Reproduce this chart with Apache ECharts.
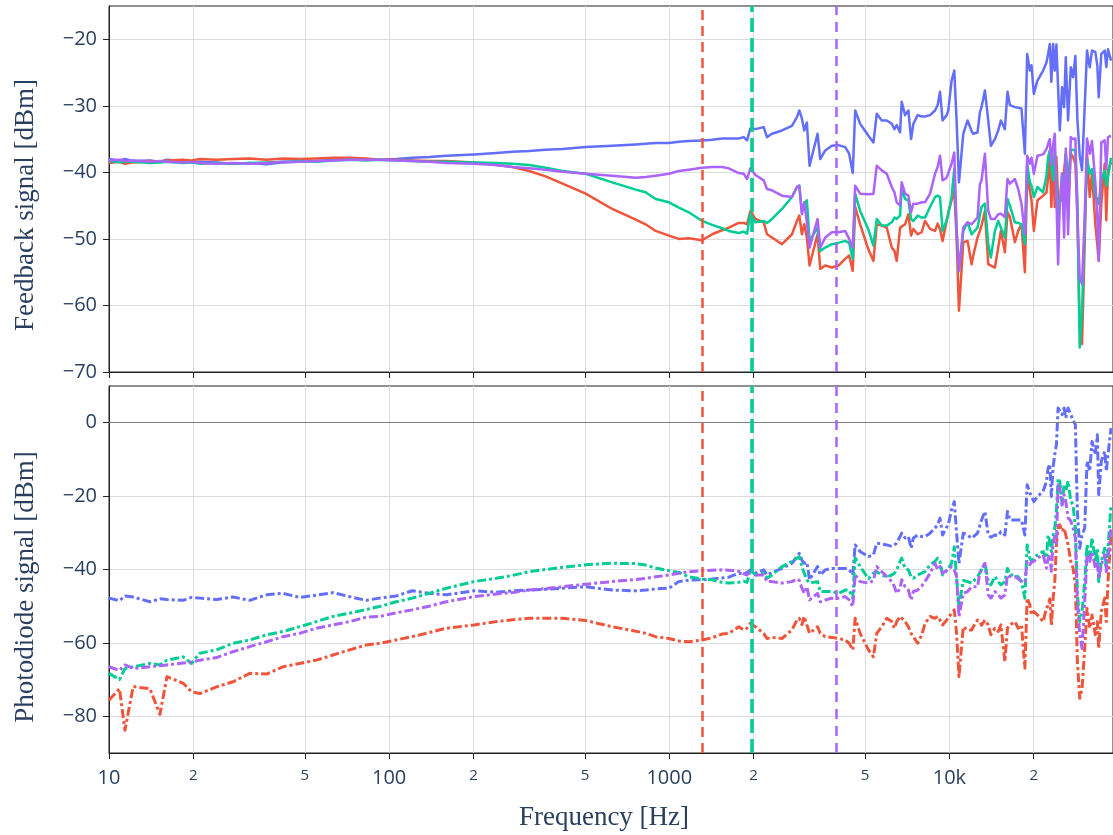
<!DOCTYPE html>
<html>
<head>
<meta charset="utf-8">
<script src="https://cdn.jsdelivr.net/npm/echarts@6/dist/echarts.min.js"></script>
<style>
  html, body { margin: 0; padding: 0; background: #ffffff; }
  #chart { width: 1113px; height: 835px; }
</style>
</head>
<body>
<div id="chart"></div>
<script>
// Frequency points [Hz] shared by every trace
const freq = [
  10, 10.9, 11.4, 12.2, 14.0, 15.2, 16.1, 18.4, 19.7, 21.1, 24.2, 27.7, 31.8, 36.5, 41.8, 47.9, 55.0, 63.0, 72.2, 82.8,
  92.4, 106, 121, 139, 160, 201, 241, 276, 316, 362, 416, 503, 626, 759, 823, 894, 997, 1082, 1174, 1310, 1422, 1543, 1631, 1770, 1844, 1895, 1948, 2030,
  2173, 2233, 2326, 2526, 2741, 2856, 2912, 2975, 3033, 3099, 3168, 3383, 3459, 3604, 3805, 4019, 4246, 4387, 4519, 4609, 4801, 5140, 5356,
  5504, 5735, 5975, 6226, 6365, 6484, 6668, 6756, 6947, 7138, 7298, 7437, 7703, 7962, 8185, 8529, 8886, 9078, 9258, 9454, 9777, 9910, 10181, 10409, 10608, 10818, 11208, 11610, 12004, 12165, 12601, 12848, 13022, 13390,
  13760, 14064, 14535, 14938, 15270, 15776, 16120, 16443, 17131, 17601, 18083, 18594, 18948, 19372, 19634, 20017, 20620, 21606, 22207, 22511, 22824, 23121, 23449, 23775, 24096, 24434, 24776, 25248, 25670, 26028, 26524, 27117, 27634, 28161, 28632, 29186, 29749, 30413, 30993, 31687, 32291, 33180, 33744, 34118, 34856, 35842, 36318, 36827, 37750
];

// Feedback signal [dBm]
const fbBlue = [
  -38.0, -38.2, -38.0, -38.3, -38.2, -38.4, -38.1, -38.3, -38.5, -38.4, -38.5, -38.7, -38.6, -38.8, -38.5, -38.4, -38.3, -38.1, -38.0, -38.1,
  -38.1, -38.0, -37.8, -37.7, -37.5, -37.3, -37.1, -36.9, -36.8, -36.6, -36.5, -36.2, -36.0, -35.8, -35.7, -35.6, -35.6, -35.4, -35.3, -35.2, -35.1, -34.9, -34.9, -34.9, -34.7, -35.2, -33.4, -33.5,
  -33.2, -34.7, -34.2, -33.7, -33.0, -31.7, -30.7, -31.9, -33.7, -32.5, -39.0, -34.2, -38.0, -36.7, -36.0, -35.9, -36.2, -37.2, -40.1, -30.7, -32.7, -34.5, -35.5,
  -31.2, -32.2, -32.2, -32.7, -33.5, -32.9, -34.0, -29.4, -31.4, -30.7, -35.0, -32.7, -31.4, -31.6, -31.6, -31.4, -30.7, -29.9, -27.9, -32.2, -31.4, -30.7, -26.2, -24.7, -32.2, -41.5, -34.2, -32.2, -33.8, -34.2, -34.0, -31.0, -30.2, -27.7,
  -32.2, -36.0, -35.0, -33.7, -32.2, -33.5, -27.9, -29.9, -30.2, -30.3, -30.4, -37.2, -22.2, -24.7, -23.9, -28.2, -26.2, -24.7, -23.5, -22.2, -20.7, -26.4, -20.7, -24.7, -20.8, -21.0, -33.7, -27.2, -30.2, -22.7, -32.2, -24.2, -25.7, -22.5, -32.0, -37.5, -39.7, -30.0, -21.7, -24.2, -21.7, -21.9, -24.0, -28.7, -22.2, -21.7, -24.2, -21.5, -23.2
];
const fbRed = [
  -38.6, -38.4, -38.7, -38.5, -38.3, -38.4, -38.2, -38.1, -38.2, -38.0, -38.1, -38.0, -37.9, -38.1, -37.9, -38.0, -37.9, -37.8, -37.8, -37.9,
  -38.1, -38.1, -38.2, -38.3, -38.3, -38.5, -38.9, -39.2, -39.8, -40.6, -41.7, -43.2, -45.5, -47.1, -47.8, -48.8, -49.5, -50.0, -49.9, -50.2, -49.3, -48.7, -48.3, -47.6, -47.6, -47.8, -45.8, -47.0,
  -47.5, -49.3, -49.8, -50.8, -49.3, -47.3, -46.5, -49.3, -47.8, -49.8, -54.0, -49.3, -54.5, -54.0, -54.3, -54.0, -53.0, -52.5, -54.8, -45.2, -47.8, -51.6, -53.3,
  -47.8, -48.0, -48.3, -51.3, -51.8, -53.3, -48.3, -48.0, -47.8, -46.3, -49.5, -48.5, -49.3, -49.0, -47.3, -48.5, -48.8, -47.7, -48.5, -50.3, -47.3, -46.0, -44.2, -42.7, -49.8, -60.8, -50.5, -50.3, -53.8, -52.5, -49.8, -48.8, -48.0, -45.8,
  -53.8, -54.0, -54.3, -51.3, -48.8, -52.0, -46.0, -46.7, -50.5, -48.8, -47.8, -55.0, -40.7, -42.7, -44.2, -48.8, -44.2, -43.5, -43.0, -40.7, -37.7, -45.2, -38.2, -45.2, -37.7, -44.0, -44.2, -44.2, -39.7, -37.2, -45.7, -37.2, -37.7, -38.7, -46.5, -63.5, -65.8, -50.5, -37.2, -43.7, -40.0, -47.8, -51.0, -53.3, -44.7, -38.7, -47.2, -39.7, -38.5
];
const fbGreen = [
  -38.3, -38.5, -38.4, -38.4, -38.6, -38.5, -38.4, -38.6, -38.5, -38.7, -38.6, -38.7, -38.6, -38.5, -38.4, -38.3, -38.4, -38.2, -38.1, -38.2,
  -38.1, -38.2, -38.3, -38.4, -38.4, -38.5, -38.6, -38.7, -38.9, -39.3, -39.8, -40.2, -41.5, -42.6, -43.0, -44.0, -44.5, -45.3, -46.0, -47.3, -47.9, -48.4, -48.8, -49.1, -48.9, -49.2, -46.2, -47.5,
  -47.3, -47.6, -47.0, -45.5, -43.7, -42.2, -42.0, -46.0, -44.7, -44.2, -50.3, -48.3, -51.8, -51.3, -50.8, -50.6, -50.3, -50.6, -53.0, -43.2, -45.8, -48.6, -51.0,
  -47.0, -48.0, -48.0, -47.5, -46.8, -47.0, -46.5, -42.5, -44.0, -44.2, -47.0, -47.3, -46.5, -46.8, -46.8, -45.2, -43.7, -43.5, -43.7, -48.8, -47.2, -46.3, -43.7, -39.5, -48.8, -54.8, -48.8, -47.5, -49.3, -49.0, -48.3, -46.5, -45.2, -44.7,
  -50.8, -52.8, -48.8, -47.3, -48.3, -49.8, -44.0, -45.0, -47.5, -47.6, -47.8, -50.8, -38.7, -41.5, -42.0, -43.7, -42.2, -43.0, -40.5, -37.7, -36.7, -39.2, -41.2, -36.7, -36.6, -46.3, -44.7, -40.2, -45.2, -37.2, -41.2, -36.7, -36.6, -36.7, -44.0, -66.3, -61.0, -48.0, -38.0, -40.2, -39.5, -43.7, -44.0, -44.7, -41.2, -39.7, -42.0, -40.7, -37.8
];
const fbPurple = [
  -38.2, -38.1, -38.3, -38.2, -38.4, -38.3, -38.4, -38.5, -38.4, -38.6, -38.7, -38.6, -38.7, -38.6, -38.4, -38.4, -38.3, -38.2, -38.1, -38.1,
  -38.1, -38.2, -38.3, -38.4, -38.6, -38.7, -38.9, -39.2, -39.4, -39.6, -39.9, -40.2, -40.5, -40.8, -40.7, -40.5, -40.2, -39.8, -39.6, -39.3, -39.2, -39.2, -39.4, -40.1, -40.2, -41.0, -39.4, -40.4,
  -41.2, -42.5, -42.7, -43.5, -43.7, -42.2, -42.0, -46.3, -44.5, -47.5, -51.3, -47.0, -51.3, -49.8, -49.0, -49.0, -48.8, -50.0, -51.3, -42.0, -43.2, -43.3, -43.2,
  -39.0, -39.7, -40.2, -42.2, -43.0, -44.5, -45.0, -41.5, -43.2, -43.5, -46.0, -44.7, -44.7, -44.5, -44.5, -43.2, -40.2, -39.2, -37.5, -41.2, -40.8, -41.0, -38.7, -37.0, -48.5, -54.8, -48.3, -47.5, -47.8, -47.8, -46.8, -41.8, -41.2, -37.2,
  -45.8, -47.0, -47.0, -46.3, -46.2, -46.7, -41.0, -41.7, -41.0, -42.5, -44.7, -49.3, -37.5, -38.7, -37.8, -40.2, -37.5, -37.3, -36.5, -35.7, -35.0, -38.9, -35.9, -34.2, -34.0, -53.8, -45.0, -40.2, -49.8, -36.4, -49.3, -34.7, -35.0, -34.9, -46.5, -55.8, -56.8, -46.5, -34.9, -37.2, -35.3, -41.5, -47.0, -53.3, -35.5, -35.2, -39.5, -34.7, -34.5
];

// Photodiode signal [dBm]
const pdBlue = [
  -47.8, -48.5, -47.2, -47.5, -48.8, -48.0, -48.2, -48.4, -47.6, -47.8, -48.2, -47.5, -48.4, -46.9, -46.5, -47.6, -47.0, -46.3, -47.4, -48.4,
  -47.8, -47.2, -45.8, -46.5, -46.9, -45.8, -46.2, -45.8, -45.6, -45.4, -45.1, -44.7, -45.6, -45.8, -45.6, -45.3, -45.1, -43.3, -42.9, -42.8, -42.6, -42.3, -42.1, -41.0, -41.2, -40.8, -40.1, -41.0,
  -40.1, -41.5, -40.8, -39.7, -38.3, -36.5, -35.6, -37.5, -38.3, -38.0, -42.8, -39.2, -41.5, -40.1, -39.7, -39.7, -39.7, -40.1, -41.5, -33.3, -35.1, -36.5, -36.0,
  -32.8, -33.1, -33.3, -33.7, -33.3, -32.8, -31.0, -30.1, -31.4, -31.0, -34.2, -31.4, -30.6, -31.0, -31.0, -30.1, -28.7, -27.8, -26.0, -30.6, -28.5, -27.8, -23.7, -21.5, -30.1, -38.3, -30.1, -30.6, -31.5, -31.9, -30.1, -28.0, -26.5, -24.2,
  -30.6, -31.2, -30.6, -30.8, -29.7, -30.6, -24.2, -26.5, -26.5, -26.5, -26.5, -30.6, -16.9, -19.1, -20.1, -21.5, -20.1, -18.7, -16.0, -12.4, -11.3, -20.1, -12.1, -8.7, -6.0, 4.0, 4.4, 2.2, 4.0, 1.3, 4.0, 2.2, 0.8, -0.5, -24.2, -34.2, -30.6, -28.7, -10.5, -13.2, -5.1, -8.7, -3.3, -19.6, -10.5, -7.8, -13.2, -8.7, -1.5
];
const pdRed = [
  -75.6, -72.5, -83.8, -71.9, -72.5, -79.5, -69.2, -71.0, -73.3, -73.8, -72.0, -70.6, -68.3, -68.5, -66.5, -65.6, -64.7, -63.3, -61.9, -60.6,
  -60.1, -59.2, -58.3, -57.2, -56.0, -55.1, -54.2, -53.7, -53.3, -53.3, -53.3, -53.9, -55.6, -56.8, -57.4, -58.3, -58.8, -59.5, -59.7, -59.2, -58.6, -57.6, -57.4, -55.6, -56.5, -56.0, -54.7, -55.6,
  -57.4, -58.8, -58.5, -58.8, -56.5, -53.8, -53.3, -55.0, -52.8, -55.1, -57.4, -55.6, -57.4, -58.3, -58.5, -58.8, -59.2, -60.1, -61.9, -53.3, -57.4, -61.9, -63.8,
  -57.4, -55.6, -53.3, -54.2, -56.0, -54.2, -52.8, -53.3, -54.2, -55.6, -57.4, -58.3, -60.1, -57.9, -54.7, -52.8, -53.3, -52.8, -53.8, -55.1, -53.8, -53.3, -51.9, -51.0, -57.4, -69.2, -55.6, -56.5, -56.5, -55.6, -53.8, -54.2, -55.2, -53.8,
  -55.1, -57.8, -56.0, -56.9, -55.1, -65.1, -56.0, -55.1, -54.2, -56.0, -55.1, -66.9, -47.8, -49.6, -52.4, -51.5, -52.4, -54.2, -50.5, -49.8, -48.0, -55.1, -48.0, -43.3, -33.3, -28.7, -27.8, -29.6, -28.7, -30.6, -33.3, -37.8, -39.6, -44.2, -65.1, -75.1, -72.4, -61.5, -50.6, -56.0, -52.4, -57.8, -54.2, -61.5, -51.5, -47.8, -54.2, -43.3, -30.6
];
const pdGreen = [
  -68.3, -70.0, -67.0, -66.5, -65.6, -66.0, -64.7, -63.8, -65.6, -62.8, -61.9, -60.1, -59.2, -57.8, -56.9, -55.6, -54.2, -52.8, -51.9, -50.9,
  -50.1, -48.8, -47.8, -46.5, -45.1, -43.3, -42.4, -41.6, -40.6, -40.0, -39.4, -38.7, -38.3, -38.4, -38.8, -39.6, -40.3, -40.8, -42.0, -42.6, -42.8, -43.5, -43.7, -43.5, -43.2, -43.5, -40.1, -41.5,
  -41.0, -42.4, -41.5, -39.2, -37.8, -36.9, -36.5, -39.2, -41.0, -42.8, -43.7, -43.3, -46.0, -46.0, -46.0, -46.5, -45.6, -45.6, -47.8, -36.9, -39.2, -42.5, -41.0,
  -40.6, -41.5, -42.0, -41.5, -41.0, -40.1, -37.8, -36.9, -39.7, -40.1, -42.0, -42.4, -41.5, -41.0, -40.6, -38.7, -37.8, -36.9, -37.8, -41.5, -40.3, -40.1, -38.3, -33.8, -42.4, -50.1, -43.0, -43.3, -43.7, -43.7, -42.0, -40.8, -40.1, -38.3,
  -43.3, -44.2, -41.9, -43.3, -44.2, -43.3, -39.7, -41.5, -41.5, -42.0, -43.3, -47.8, -33.3, -36.9, -37.8, -36.9, -36.0, -35.1, -36.9, -30.6, -32.4, -35.1, -30.6, -28.7, -24.2, -15.1, -16.0, -22.4, -16.9, -18.7, -15.9, -21.3, -22.4, -28.7, -46.5, -54.2, -51.5, -43.3, -33.3, -36.9, -31.4, -37.8, -34.2, -43.3, -37.8, -34.2, -39.6, -34.2, -22.4
];
const pdPurple = [
  -66.5, -67.5, -66.0, -67.0, -66.5, -66.2, -66.0, -65.5, -65.2, -64.7, -64.0, -62.4, -61.0, -59.7, -58.3, -57.4, -56.0, -55.1, -54.2, -53.0,
  -52.8, -51.8, -51.0, -50.0, -48.8, -47.4, -46.7, -46.3, -45.6, -45.2, -44.7, -44.0, -43.3, -42.7, -42.4, -42.0, -41.5, -41.0, -40.6, -40.3, -40.2, -40.1, -40.2, -40.5, -41.2, -41.5, -40.0, -41.5,
  -41.5, -43.3, -43.3, -43.7, -43.3, -42.6, -43.0, -45.1, -46.5, -44.7, -48.3, -46.5, -48.8, -48.3, -47.8, -47.8, -47.4, -48.3, -50.1, -41.5, -43.3, -43.7, -43.0,
  -39.2, -40.6, -41.9, -43.3, -44.7, -46.5, -45.1, -42.8, -44.7, -45.6, -48.3, -46.0, -45.6, -44.5, -43.3, -41.0, -38.3, -40.1, -39.2, -41.0, -40.3, -40.1, -39.2, -40.1, -41.9, -52.8, -46.5, -46.0, -44.7, -44.7, -44.7, -40.8, -40.1, -38.3,
  -46.9, -47.8, -46.0, -46.9, -47.8, -46.9, -41.5, -41.9, -41.9, -42.5, -43.3, -43.3, -37.8, -38.7, -38.0, -37.8, -36.9, -36.0, -39.6, -37.0, -36.0, -40.5, -32.8, -31.0, -32.8, -16.9, -17.8, -22.4, -19.6, -21.5, -25.9, -26.8, -28.7, -31.4, -48.8, -57.8, -61.5, -48.8, -36.0, -37.8, -35.1, -39.6, -37.8, -42.4, -38.7, -36.0, -40.6, -37.0, -28.7
];

// Axis ticks
const freqTicks = [10, 20, 50, 100, 200, 500, 1000, 2000, 5000, 10000, 20000];
const fbTicks = [-70, -60, -50, -40, -30, -20];
const pdTicks = [-80, -60, -40, -20, 0];

// Marker frequencies [Hz] (red, green, purple)
const markerFreqs = [1310, 1970, 3945];

const COLORS = ['#636efa', '#EF553B', '#00cc96', '#ab63fa'];
const TICK_FONT = '"Open Sans", "DejaVu Sans", sans-serif';
const TITLE_FONT = '"Liberation Serif", "DejaVu Serif", serif';
const TEXT_COLOR = '#2a3f5f';
const GRID_COLOR = '#dcdcdc';
const LINE_COLOR = '#222222';

const pairs = vals => freq.map((f, i) => [f, vals[i]]);
const minusFmt = v => (v < 0 ? '\u2212' + Math.abs(v) : String(v));
const freqNames = { 10: '10', 100: '100', 1000: '1000', 10000: '10k' };
const freqFmt = v => {
  const r = Math.round(v);
  return freqNames[r] ? '{big|' + freqNames[r] + '}' : '{small|' + String(r)[0] + '}';
};

function xAxisFor(gridIndex, labels) {
  return {
    type: 'log', logBase: 10, gridIndex, min: 10, max: 38370,
    axisLine: { show: true, onZero: false, lineStyle: { color: LINE_COLOR, width: 1 } },
    axisTick: { show: true, inside: false, length: 6, customValues: freqTicks, lineStyle: { color: LINE_COLOR } },
    minorTick: { show: false },
    splitLine: { show: true, lineStyle: { color: GRID_COLOR, width: 1 } },
    axisLabel: {
      show: labels, customValues: freqTicks, margin: 15, formatter: freqFmt,
      rich: {
        big: { fontSize: 20, fontFamily: TICK_FONT, color: TEXT_COLOR },
        small: { fontSize: 15, fontFamily: TICK_FONT, color: TEXT_COLOR }
      }
    }
  };
}
function yAxisFor(gridIndex, min, max, ticks) {
  return {
    type: 'value', gridIndex, min, max,
    axisLine: { show: true, lineStyle: { color: LINE_COLOR, width: 1 } },
    axisTick: { show: true, inside: false, length: 6, customValues: ticks, lineStyle: { color: LINE_COLOR } },
    splitLine: { show: true, lineStyle: { color: GRID_COLOR, width: 1 } },
    axisLabel: {
      customValues: ticks, margin: 12, formatter: minusFmt,
      fontSize: 20, fontFamily: TICK_FONT, color: TEXT_COLOR
    }
  };
}

function trace(vals, color, gridIndex, dash) {
  return {
    type: 'line', xAxisIndex: gridIndex, yAxisIndex: gridIndex,
    data: pairs(vals), showSymbol: false, symbol: 'none', silent: true,
    lineStyle: { color, width: dash ? 3 : 2.5, type: dash ? [9, 3, 3, 3] : 'solid', join: 'round' },
    itemStyle: { color }, z: 3
  };
}

// Vertical dashed marker lines drawn on top of one subplot
function markerSeries(gridIndex) {
  const styles = [
    { color: COLORS[1], width: 2.5, type: [10, 6] },
    { color: COLORS[2], width: 3.5, type: [14, 6] },
    { color: COLORS[3], width: 2.5, type: [10, 7] }
  ];
  return {
    type: 'line', xAxisIndex: gridIndex, yAxisIndex: gridIndex, data: [], silent: true, z: 5,
    markLine: {
      silent: true, symbol: 'none', animation: false, label: { show: false },
      data: markerFreqs.map((f, i) => ({ xAxis: f, lineStyle: styles[i] }))
    }
  };
}

const chart = echarts.init(document.getElementById('chart'), null, { renderer: 'canvas' });
chart.setOption({
  animation: false,
  backgroundColor: '#ffffff',
  grid: [
    { left: 109, top: 6, width: 1006, height: 366, show: true, borderColor: LINE_COLOR, borderWidth: 1 },
    { left: 109, top: 386, width: 1006, height: 367, show: true, borderColor: LINE_COLOR, borderWidth: 1 }
  ],
  xAxis: [xAxisFor(0, false), xAxisFor(1, true)],
  yAxis: [yAxisFor(0, -70, -15, fbTicks), yAxisFor(1, -90, 10, pdTicks)],
  series: [
    {
      type: 'line', xAxisIndex: 1, yAxisIndex: 1, data: [], silent: true, z: 1,
      markLine: {
        silent: true, symbol: 'none', animation: false, label: { show: false },
        lineStyle: { color: '#7f7f7f', width: 1, type: 'solid' },
        data: [{ yAxis: 0 }]
      }
    },
    trace(fbBlue, COLORS[0], 0, false),
    trace(fbRed, COLORS[1], 0, false),
    trace(fbGreen, COLORS[2], 0, false),
    trace(fbPurple, COLORS[3], 0, false),
    trace(pdBlue, COLORS[0], 1, true),
    trace(pdRed, COLORS[1], 1, true),
    trace(pdGreen, COLORS[2], 1, true),
    trace(pdPurple, COLORS[3], 1, true),
    markerSeries(0),
    markerSeries(1)
  ],
  graphic: [
    {
      type: 'text', x: 26, y: 205, rotation: Math.PI / 2, silent: true,
      style: { text: 'Feedback signal [dBm]', font: '27px ' + TITLE_FONT, fill: TEXT_COLOR, align: 'center', verticalAlign: 'middle' }
    },
    {
      type: 'text', x: 26, y: 587, rotation: Math.PI / 2, silent: true,
      style: { text: 'Photodiode signal [dBm]', font: '27px ' + TITLE_FONT, fill: TEXT_COLOR, align: 'center', verticalAlign: 'middle' }
    },
    {
      type: 'text', x: 604, y: 818, silent: true,
      style: { text: 'Frequency [Hz]', font: '27px ' + TITLE_FONT, fill: TEXT_COLOR, align: 'center', verticalAlign: 'middle' }
    }
  ]
});
</script>
</body>
</html>
